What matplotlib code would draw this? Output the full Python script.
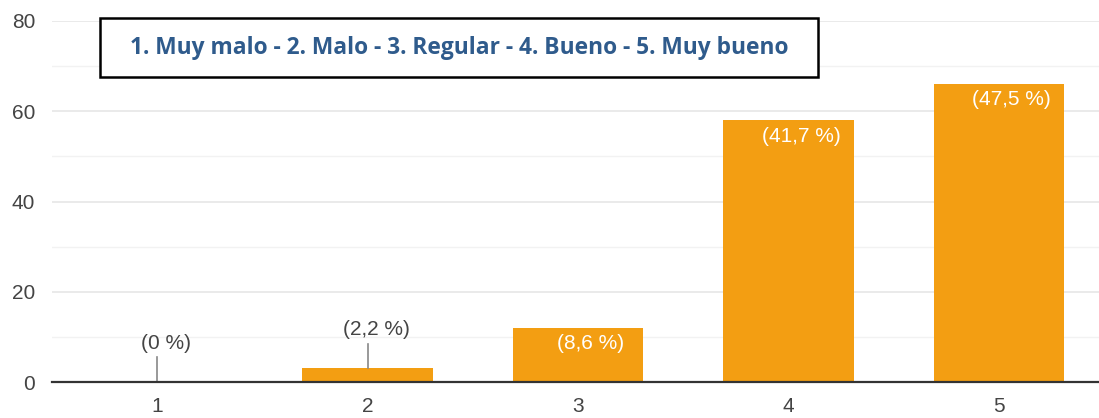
import matplotlib.pyplot as plt
from matplotlib.patches import Rectangle
from matplotlib.ticker import MultipleLocator

# puntuaciones y número de respuestas
categorias = ['1', '2', '3', '4', '5']
respuestas = [0, 3, 12, 58, 66]
porcentajes = ['(0 %)', '(2,2 %)', '(8,6 %)', '(41,7 %)', '(47,5 %)']
leyenda = '1. Muy malo - 2. Malo - 3. Regular - 4. Bueno - 5. Muy bueno'

naranja = '#F39E12'
fuente = ['Liberation Sans Narrow', 'Liberation Sans', 'DejaVu Sans']

W, H = 1099, 418
fig = plt.figure(figsize=(W / 100, H / 100), dpi=100)
ax = fig.add_axes([52 / W, 36 / H, 1052 / W, 361 / H])

x = list(range(1, len(categorias) + 1))
ax.bar(x, respuestas, width=0.62, color=naranja, zorder=2)

ax.set_xlim(0.5, 5.5)
ax.set_ylim(0, 80)
ax.yaxis.set_major_locator(MultipleLocator(20))
ax.yaxis.set_minor_locator(MultipleLocator(10))
ax.grid(axis='y', which='major', color='#e6e6e6', linewidth=1.2, zorder=0)
ax.grid(axis='y', which='minor', color='#f2f2f2', linewidth=1.0, zorder=0)
ax.set_xticks(x)
ax.set_xticklabels(categorias)

for s in ['top', 'right', 'left']:
    ax.spines[s].set_visible(False)
ax.spines['bottom'].set_color('#333333')
ax.spines['bottom'].set_linewidth(1.6)
ax.spines['bottom'].set_zorder(3)
ax.tick_params(axis='both', which='both', length=0, labelsize=15,
               labelcolor='#444444')
ax.tick_params(axis='x', pad=11)
ax.tick_params(axis='y', pad=12)
for t in ax.get_xticklabels() + ax.get_yticklabels():
    t.set_family(fuente)

# etiquetas de porcentaje: fuera con línea guía para barras bajas, dentro para las altas
for xi, v, p in zip(x, respuestas, porcentajes):
    if v < 8:
        ax.plot([xi, xi], [v, v + 5.5], color='#888888', linewidth=1.2, zorder=3)
        ax.text(xi + 0.04, v + 6.5, p, ha='center', va='bottom', fontsize=15,
                color='#444444', family=fuente)
    else:
        ax.text(xi + 0.06, v - 1.4, p, ha='center', va='top', fontsize=15,
                color='white', family=fuente)

# recuadro con la escala de valoración
fig.add_artist(Rectangle((100 / W, 1 - 77 / H), 718 / W, 59 / H,
                         transform=fig.transFigure, facecolor='white',
                         edgecolor='black', linewidth=1.8, zorder=5))
fig.text(459 / W, 1 - 48 / H, leyenda, ha='center', va='center',
         fontsize=16.4, fontweight='bold', color='#2F5B8C',
         family=['Open Sans', 'DejaVu Sans'], zorder=6)

fig.savefig('out.png', dpi=100)
